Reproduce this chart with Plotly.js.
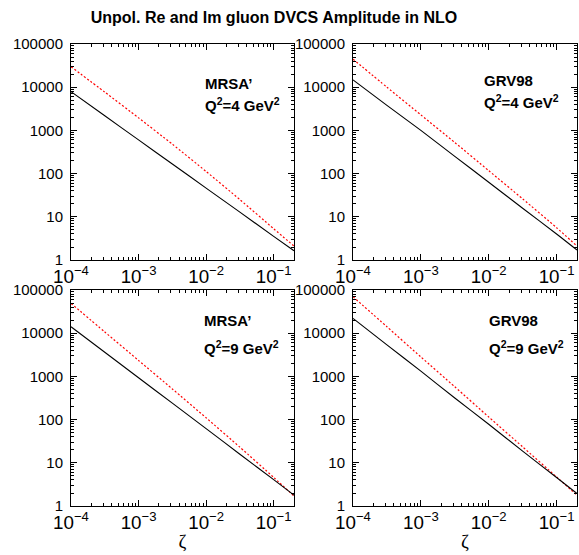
<!DOCTYPE html>
<html>
<head>
<meta charset="utf-8">
<script src="https://cdn.plot.ly/plotly-3.0.1.min.js"></script>
<style>html,body{margin:0;padding:0;background:#fff}</style>
</head>
<body>
<div id="chart" style="width:579px;height:555px"></div>
<script>
// zeta grid (decades and half-decades)
const zeta = [1e-4, 3.162e-4, 1e-3, 3.162e-3, 1e-2, 3.162e-2, 0.1, 0.2];

// MRSA' Q^2=4
const mrsa4Re = [7870, 2178, 603, 167, 46.1, 12.8, 3.53, 1.64];
const mrsa4Im = [29800, 7700, 1950, 480, 112, 25, 5.3, 2.1];
// GRV98 Q^2=4
const grv4Re = [14800, 3800, 1000, 251, 63, 15.8, 4.0, 1.7];
const grv4Im = [44700, 10000, 2290, 525, 117, 26, 5.6, 2.1];
// MRSA' Q^2=9
const mrsa9Re = [14100, 3630, 933, 240, 62, 15.8, 4.07, 1.78];
const mrsa9Im = [49000, 10700, 2340, 513, 110, 23, 4.6, 1.7];
// GRV98 Q^2=9
const grv9Re = [22100, 5370, 1320, 316, 78, 18.6, 4.57, 1.95];
const grv9Im = [70000, 14100, 2820, 575, 115, 23.4, 4.7, 1.78];

const panelLabels = [
  ["MRSA’", "Q<sup>2</sup>=4 GeV<sup>2</sup>"],
  ["GRV98", "Q<sup>2</sup>=4 GeV<sup>2</sup>"],
  ["MRSA’", "Q<sup>2</sup>=9 GeV<sup>2</sup>"],
  ["GRV98", "Q<sup>2</sup>=9 GeV<sup>2</sup>"]
];
const titleText = "Unpol. Re and Im gluon DVCS Amplitude in NLO";
const xTitle = "ζ";

const panels = [
  {re: mrsa4Re, im: mrsa4Im},
  {re: grv4Re, im: grv4Im},
  {re: mrsa9Re, im: mrsa9Im},
  {re: grv9Re, im: grv9Im}
];

const W = 579, H = 555;
const xDom = [[71/W, 294/W], [353/W, 577/W]];
const yDom = [[(H-260)/H, (H-44)/H], [(H-506)/H, (H-290)/H]];

const traces = [];
panels.forEach((p, i) => {
  const s = i === 0 ? '' : String(i+1);
  traces.push({x: zeta, y: p.im, xaxis: 'x'+s, yaxis: 'y'+s, type: 'scatter', mode: 'lines',
    line: {color: '#ff0000', width: 1.2, dash: '2px,2px', shape: 'spline', smoothing: 0.6}, showlegend: false, hoverinfo: 'skip'});
  traces.push({x: zeta, y: p.re, xaxis: 'x'+s, yaxis: 'y'+s, type: 'scatter', mode: 'lines',
    line: {color: '#000000', width: 1.1, shape: 'spline', smoothing: 0.6}, showlegend: false, hoverinfo: 'skip'});
});

const font = {family: 'Liberation Sans, Arial, sans-serif', size: 15, color: '#000'};
const layout = {
  width: W, height: H,
  margin: {l: 0, r: 0, t: 0, b: 0},
  paper_bgcolor: '#fff', plot_bgcolor: '#fff',
  font: font,
  title: {text: '<b>' + titleText + '</b>', x: 274/W, xanchor: 'center', xref: 'container',
    y: 1 - 17/H, yanchor: 'middle', yref: 'container',
    font: {family: 'Liberation Sans, Arial, sans-serif', size: 16, color: '#000'}},
  annotations: []
};

const labelPos = [
  {x: 0.592, y1: 0.815, y2: 0.722},
  {x: 0.576, y1: 0.833, y2: 0.734},
  {x: 0.587, y1: 0.86, y2: 0.736},
  {x: 0.60, y1: 0.86, y2: 0.736}
];

for (let i = 0; i < 4; i++) {
  const s = i === 0 ? '' : String(i+1);
  const col = i % 2, row = Math.floor(i / 2);
  const xa = {
    domain: xDom[col], anchor: 'y'+s, type: 'log', range: [-4, Math.log10(0.2)],
    showline: true, linecolor: '#000', linewidth: 1, mirror: 'allticks',
    ticks: 'inside', ticklen: 6, tickwidth: 1, tickcolor: '#000',
    dtick: 1, exponentformat: 'power', showgrid: false, zeroline: false,
    minor: {ticks: 'inside', ticklen: 3, tickwidth: 1, tickcolor: '#000', dtick: 'D1', showgrid: false},
    tickfont: font, automargin: false
  };
  if (row === 1) {
    xa.title = {text: xTitle, font: {family: 'Liberation Serif, Times New Roman, serif', size: 19, color: '#000'}, standoff: 2};
  }
  const ya = {
    domain: yDom[row], anchor: 'x'+s, type: 'log', range: [0, 5],
    showline: true, linecolor: '#000', linewidth: 1, mirror: 'allticks',
    ticks: 'inside', ticklen: 6, tickwidth: 1, tickcolor: '#000',
    dtick: 1, tickformat: 'd', showgrid: false, zeroline: false,
    minor: {ticks: 'inside', ticklen: 3, tickwidth: 1, tickcolor: '#000', dtick: 'D1', showgrid: false},
    tickfont: font, automargin: false, ticklabelstandoff: 4
  };
  layout['xaxis'+s] = xa;
  layout['yaxis'+s] = ya;
  const lp = labelPos[i];
  [panelLabels[i][0], panelLabels[i][1]].forEach((t, k) => {
    layout.annotations.push({
      text: '<b>' + t + '</b>', xref: 'x'+s+' domain', yref: 'y'+s+' domain',
      x: lp.x, y: k === 0 ? lp.y1 : lp.y2, xanchor: 'left', yanchor: 'middle',
      showarrow: false, font: {family: 'Liberation Sans, Arial, sans-serif', size: 15, color: '#000'}
    });
  });
}

Plotly.newPlot('chart', traces, layout, {staticPlot: true, displayModeBar: false});
</script>
</body>
</html>
